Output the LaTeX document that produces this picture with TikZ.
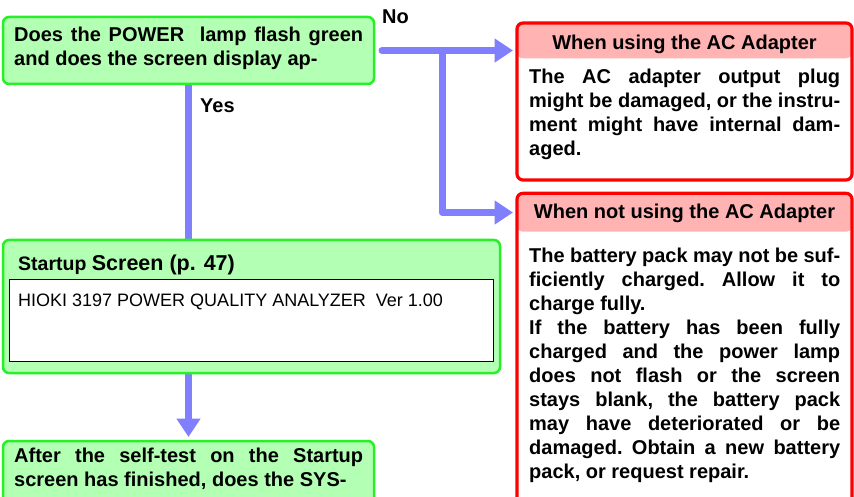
\documentclass[tikz,border=0pt]{standalone}
\usepackage{fontspec}
\setmainfont{Liberation Sans}
\usetikzlibrary{arrows.meta,backgrounds}
\definecolor{gfill}{RGB}{179,255,179}
\definecolor{gline}{RGB}{40,240,40}
\definecolor{hdrpink}{RGB}{255,179,179}
\definecolor{arr}{RGB}{128,128,255}
\newcommand{\firststrut}{\frenchspacing\setlength{\parindent}{0pt}\setlength{\parskip}{0pt}\tolerance=10000\relax\hyphenpenalty=10000\relax\leavevmode\vrule height 15pt depth 0pt width 0pt\relax}
\newcommand{\nofill}{\setlength{\parfillskip}{0pt}}
\tikzset{
  gbox/.style={draw=gline, fill=gfill, line width=2.5pt, rounded corners=6pt, inner sep=0pt, outer sep=0pt},
  rbox/.style={draw=red, fill=white, line width=3.2pt, rounded corners=6pt, inner sep=0pt, outer sep=0pt,
    path picture={\fill[hdrpink] (path picture bounding box.north west) rectangle ([yshift=-#1]path picture bounding box.north east);}},
  hdr/.style={font=\fontsize{20}{24}\selectfont\bfseries, inner sep=0pt, outer sep=0pt, minimum width=335pt},
  body/.style={font=\fontsize{20}{24.07}\selectfont\bfseries, align=justify, inner sep=0pt, anchor=north west},
  lbl/.style={font=\fontsize{20}{24}\selectfont\bfseries, inner sep=0pt, anchor=base west},
  flow/.style={draw=arr, line width=7pt, line cap=round, line join=round},
  flowarrow/.style={flow, -{Triangle[length=18.5pt,width=23pt]}}
}
\begin{document}
\begin{tikzpicture}[x=1pt,y=-1pt]
\useasboundingbox (0,0) rectangle (854,497);
\clip (0,0) rectangle (854,497);

% question box
\node[gbox, minimum width=371pt, minimum height=67pt] (q) at (188.5,50.5) {};
\node[body, text width=349pt] (qt) at (14,26.5)
  {\nofill\firststrut Does the POWER~ lamp flash green\linebreak and does the screen display ap-};

% labels
\node[lbl] (no) at (382,24) {No};
\node[lbl] (yes) at (200,113) {Yes};

% startup screen box
\node[gbox, minimum width=497pt, minimum height=133pt] (s) at (251.5,306.5) {};
\node[inner sep=0pt, anchor=base west] (sh) at (18,270.7)
  {\bfseries\fontsize{19.5}{24}\selectfont Startup \fontsize{21.5}{24}\selectfont Screen (p. 47)};
\node[draw=black, fill=white, line width=0.8pt, minimum width=484pt, minimum height=82pt, inner sep=0pt] (sc) at (251,320) {};
\node[inner sep=0pt, anchor=base west, font=\fontsize{18}{22}\selectfont] (st) at (18,306)
  {HIOKI 3197 POWER QUALITY ANALYZER~ Ver 1.00};

% bottom question box
\node[gbox, minimum width=371pt, minimum height=100pt, anchor=north] (b) at (188.5,441) {};
\node[body, text width=349pt] (bt) at (14,447)
  {\nofill\firststrut After the self-test on the Startup\linebreak screen has finished, does the SYS-};

% red box 1
\node[rbox=35.3pt, minimum width=335pt, minimum height=157pt] (r1) at (684.5,101.5) {};
\node[hdr, text height=20pt, text depth=1.3pt, minimum height=35.3pt] (h1) at (684.5,40.65) {When using the AC Adapter};
\node[body, text width=311pt] (t1) at (529,68.5)
  {\firststrut The AC adapter output plug\linebreak might be damaged, or the instru-\linebreak ment might have internal dam-\linebreak aged.};

% red box 2
\node[rbox=38.4pt, minimum width=335pt, minimum height=367pt] (r2) at (684.5,376.8) {};
\node[hdr, text height=15pt, text depth=3.4pt, minimum height=38.4pt] (h2) at (684.5,212.5) {When not using the AC Adapter};
\node[body, text width=311pt] (t2) at (529,247)
  {\firststrut The battery pack may not be suf-\linebreak ficiently charged. Allow it to\linebreak charge fully.\par
   \firststrut If the battery has been fully\linebreak charged and the power lamp\linebreak does not flash or the screen\linebreak stays blank, the battery pack\linebreak may have deteriorated or be\linebreak damaged. Obtain a new battery\linebreak pack, or request repair.};

\coordinate (j) at (442,50.5);

\begin{pgfonlayer}{background}
\draw[flowarrow, shorten >=4pt] ([xshift=8pt]q.east) -- (q.east -| h1.west);
\draw[flowarrow, shorten >=4pt] (j) |- (h2.west);
\draw[flow, line cap=butt] (q.south) -- (q.south |- s.north);
\draw[flowarrow, line cap=butt, shorten >=4pt] (b.north |- s.south) -- (b.north);
\end{pgfonlayer}
\end{tikzpicture}
\end{document}
